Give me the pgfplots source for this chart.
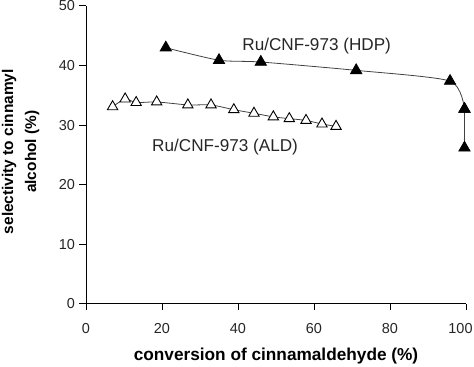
\documentclass[border=0pt]{standalone}
\usepackage{fontspec}
\setmainfont{Liberation Sans}
\usepackage{pgfplots}
\pgfplotsset{compat=1.18}
\usetikzlibrary{calc}
\begin{document}
\begin{tikzpicture}
\begin{axis}[
  name=ax,
  scale only axis,
  width=380bp, height=298bp,
  xmin=0, xmax=100, ymin=0, ymax=50,
  axis x line*=bottom, axis y line*=left,
  axis line style={black, line width=1pt},
  xtick={0,20,40,60,80,100},
  xticklabels={0,20,40,60,80,{\hspace*{-11bp}100}},
  ytick={0,10,20,30,40,50},
  tick align=outside,
  major tick length=6.5bp,
  tick style={black, line width=1pt},
  /pgf/number format/assume math mode=true,
  ticklabel style={font=\fontsize{14.5}{16}\selectfont, text=black!85},
  xticklabel style={yshift=-9bp},
  yticklabel style={xshift=-1bp},
  xlabel={\textbf{conversion of cinnamaldehyde (\%)}},
  ylabel={\textbf{selectivity to cinnamyl}\\\textbf{alcohol (\%)}},
  ylabel style={align=center, font=\fontsize{15.5}{23}\selectfont,
    at={(axis description cs:-0.172,0.511)}, anchor=center},
  xlabel style={font=\fontsize{17.3}{20}\selectfont,
    at={(axis description cs:0.5,-0.19)}, anchor=base},
  clip=false,
]
\addplot[black!75, line width=0.8pt, smooth, tension=0.4,
  mark=triangle*, mark size=6.5bp, mark options={fill=black, draw=black, solid}]
  coordinates {(21.0,43.0) (35.0,40.9) (46.0,40.6) (71.1,39.2) (95.8,37.4) (99.6,32.7)};
\addplot[black!75, line width=0.8pt,
  mark=triangle*, mark size=6.5bp, mark options={fill=black, draw=black, solid}]
  coordinates {(99.6,32.7) (99.6,26.2)};
\addplot[black!75, line width=0.8pt, smooth, tension=0.4,
  mark=triangle*, mark size=6bp, mark options={fill=white, draw=black, line width=0.9pt, solid}]
  coordinates {(7.0,33.1) (10.3,34.4) (13.2,33.8) (18.6,33.9) (26.8,33.4) (32.9,33.4) (38.9,32.6) (44.2,32.0) (49.3,31.4) (53.5,31.1) (57.9,30.8) (62.1,30.2) (65.8,29.8)};
\node[font=\fontsize{17.2}{20}\selectfont, text=black!85] at (axis cs:60.7,43.3) {Ru/CNF-973 (HDP)};
\node[font=\fontsize{17.2}{20}\selectfont, text=black!85] at (axis cs:36.6,26.4) {Ru/CNF-973 (ALD)};
\end{axis}
\pgfresetboundingbox
\path ($(ax.south west)+(-86bp,-63bp)$) rectangle ($(ax.north east)+(8bp,6bp)$);
\end{tikzpicture}
\end{document}
